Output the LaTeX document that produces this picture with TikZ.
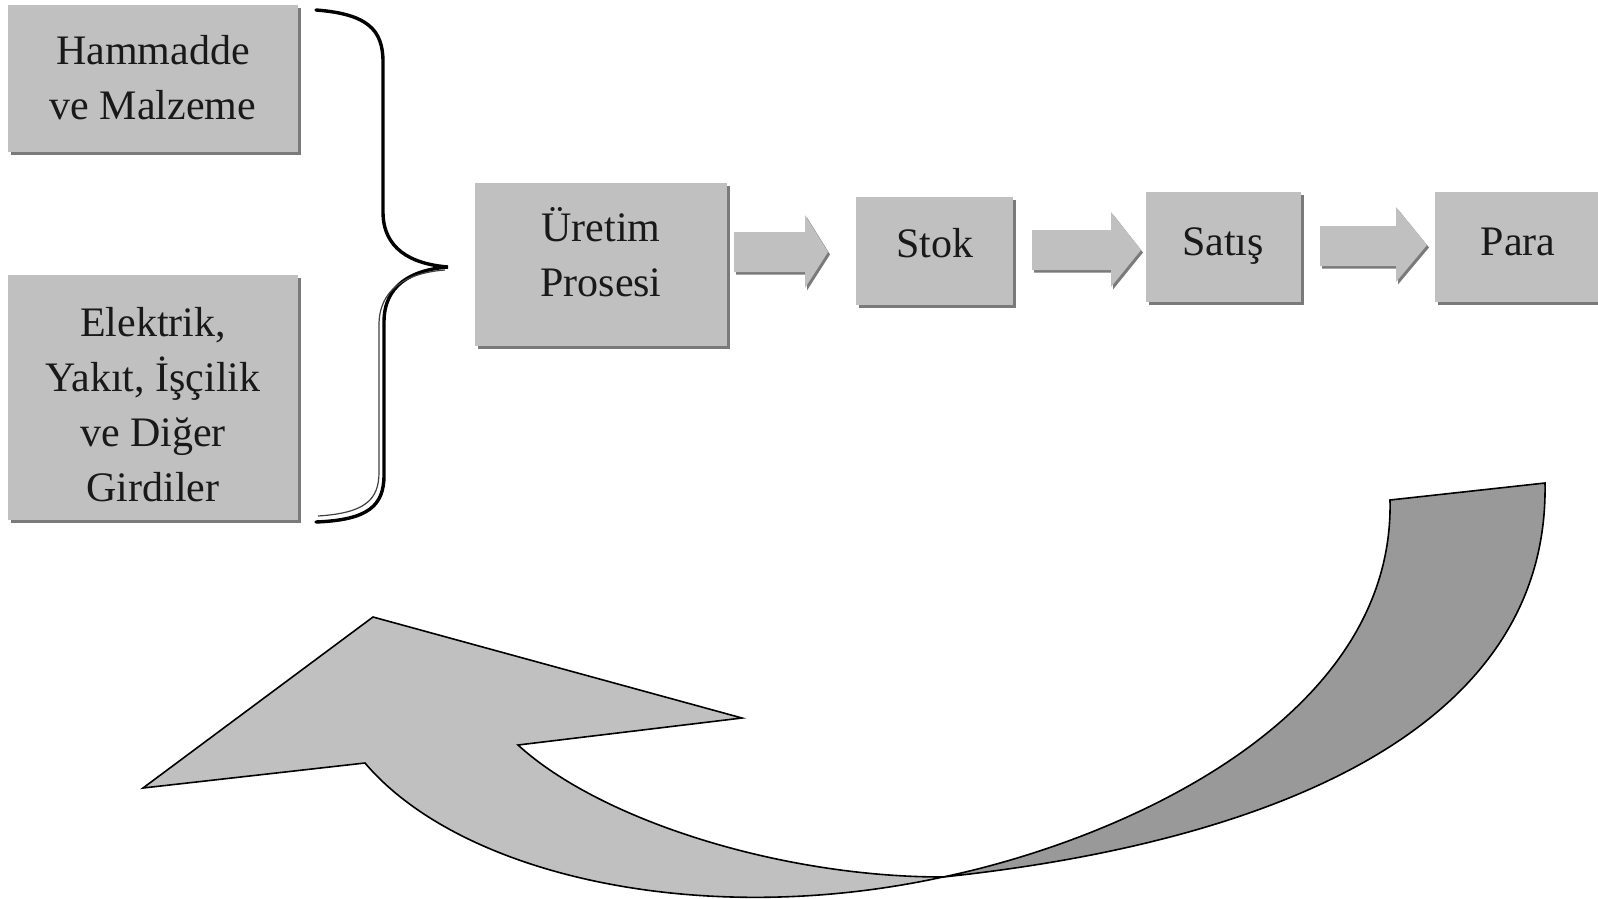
\documentclass[tikz,border=0pt]{standalone}
\usepackage{fontspec}
\setmainfont{Liberation Serif}
\usetikzlibrary{shadows}
\definecolor{boxgray}{HTML}{C0C0C0}
\definecolor{shadowgray}{HTML}{7A7A7A}
\definecolor{darkband}{HTML}{999999}
\begin{document}
\begin{tikzpicture}[x=1pt,y=-1pt,
  box/.style={fill=boxgray, draw=none, inner sep=0pt, anchor=north west,
    drop shadow={shadow xshift=3pt, shadow yshift=-3pt, fill=shadowgray, opacity=1}},
  lbl/.style={font=\fontsize{42}{55}\selectfont, align=center, inner sep=0pt, text=black!90},
  blockarrow/.style={fill=boxgray, draw=none},
  blockshadow/.style={fill=shadowgray, draw=none},
  bandline/.style={draw=black, line width=1.6pt, line join=miter},
  bracestyle/.style={draw=black, line width=3.4pt, line cap=round}
]
\useasboundingbox (0,0) rectangle (1598,899);

% boxes
\node[box, minimum width=290pt, minimum height=147pt] (ham) at (8,5) {};
\node[box, minimum width=290pt, minimum height=245pt] (elek) at (8,275) {};
\node[box, minimum width=252pt, minimum height=163pt] (uret) at (475,183) {};
\node[box, minimum width=157pt, minimum height=108pt] (stok) at (856,197) {};
\node[box, minimum width=155pt, minimum height=110pt] (satis) at (1146,192) {};
\node[box, minimum width=200pt, minimum height=110pt] (para) at (1435,192) {};

% labels
\node[lbl] (hamlbl) at (153,78) {Hammadde\\ve Malzeme};
\node[lbl] (eleklbl) at (153,405) {Elektrik,\\Yakıt, İşçilik\\ve Diğer\\Girdiler};
\node[lbl] (uretlbl) at (601,252) {Üretim\\Prosesi};
\node[lbl, anchor=base] (stoklbl) at (935,257) {Stok};
\node[lbl, anchor=base] (satislbl) at (1223,255) {Satış};
\node[lbl, anchor=base] (paralbl) at (1518,255) {Para};

% block arrows
\begin{scope}[shift={(2,2.5)}]
\fill[blockshadow] (734,232) -- (805,232) -- (805,215) -- (828,252) -- (805,288) -- (805,272) -- (734,272) -- cycle;
\fill[blockshadow] (1032,230) -- (1111,230) -- (1111,212) -- (1141,250) -- (1111,287) -- (1111,270) -- (1032,270) -- cycle;
\fill[blockshadow] (1320,226) -- (1396,226) -- (1396,207) -- (1427,245) -- (1396,282) -- (1396,266) -- (1320,266) -- cycle;
\end{scope}
\fill[blockarrow] (734,232) -- (805,232) -- (805,215) -- (828,252) -- (805,288) -- (805,272) -- (734,272) -- cycle;
\fill[blockarrow] (1032,230) -- (1111,230) -- (1111,212) -- (1141,250) -- (1111,287) -- (1111,270) -- (1032,270) -- cycle;
\fill[blockarrow] (1320,226) -- (1396,226) -- (1396,207) -- (1427,245) -- (1396,282) -- (1396,266) -- (1320,266) -- cycle;

% brace
\draw[bracestyle] (316,10) .. controls (368,14) and (383,30) .. (383,62) -- (383,212)
  .. controls (383,248) and (410,264) .. (448,267)
  .. controls (410,270) and (384,286) .. (384,322) -- (384,475)
  .. controls (384,506) and (368,520) .. (316,522);
\draw[draw=black!75, line width=1.2pt] (318,516) .. controls (365,513) and (379,500) .. (379,472) -- (379,325)
  .. controls (379,290) and (405,273) .. (445,270);

% curved return arrow
\coordinate (X) at (943,877);
\filldraw[bandline, fill=darkband] (X) .. controls (1120,840) and (1395,720) .. (1390,500)
  -- (1545,483) .. controls (1550,760) and (1200,850) .. (X) -- cycle;
\filldraw[bandline, fill=boxgray] (X) .. controls (780,877) and (600,820) .. (518,745)
  -- (742,718) -- (373,617) -- (143,788) -- (365,763)
  .. controls (460,875) and (700,930) .. (X) -- cycle;
\end{tikzpicture}
\end{document}
